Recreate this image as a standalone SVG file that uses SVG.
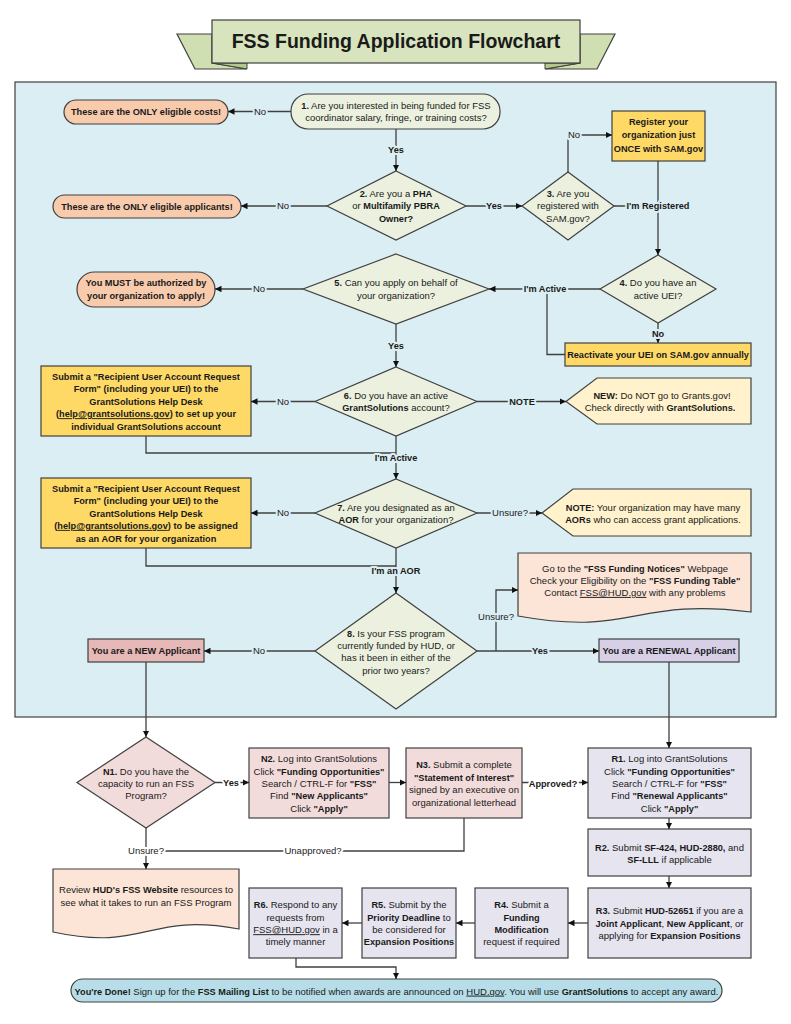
<svg xmlns="http://www.w3.org/2000/svg" width="791" height="1024" viewBox="0 0 791 1024">
<defs>
<style>
text{font-family:"Liberation Sans",Arial,sans-serif;font-size:9.5px;fill:#1a1a1a;text-anchor:middle}
.b{font-weight:bold;font-size:9.2px}
.u{text-decoration:underline}
.nd{stroke:#404040;stroke-width:1.2}
.cn{fill:none;stroke:#404040;stroke-width:1.3}
.lb{paint-order:stroke;stroke:#daeef3;stroke-width:4px;stroke-linejoin:round}
.lw{stroke:#ffffff}
.peach{fill:#f8cbad}
.q{fill:#ebf1de}
.gold{fill:#ffd966}
.note{fill:#fff2cc}
.doc{fill:#fce4d6}
.newb{fill:#e6b8b7}
.ren{fill:#d6cfe6}
.np{fill:#f2dcdb}
.rp{fill:#e6e4ee}
</style>
<marker id="ah" viewBox="0 0 10 10" refX="10" refY="5" markerWidth="6.5" markerHeight="6.5" markerUnits="userSpaceOnUse" orient="auto"><path d="M0,0L10,5L0,10z" fill="#111"/></marker>
</defs>
<rect x="0" y="0" width="791" height="1024" fill="#ffffff"/>

<g id="title">
<polygon points="177,34 212,34 212,63 247,69 195,69" fill="#d0dfb2" stroke="#404040" stroke-width="1.2"/>
<polygon points="212,63 247,63 247,69" fill="#b3c98b" stroke="#404040" stroke-width="1"/>
<polygon points="615,34 580,34 580,63 545,69 597,69" fill="#d0dfb2" stroke="#404040" stroke-width="1.2"/>
<polygon points="580,63 545,63 545,69" fill="#b3c98b" stroke="#404040" stroke-width="1"/>
<rect x="212" y="20" width="368" height="43" fill="#d7e4bd" stroke="#404040" stroke-width="1.2"/>
<text x="396" y="48" class="b" style="font-size:19.5px">FSS Funding Application Flowchart</text>
</g>

<rect id="panel" x="15" y="82" width="761" height="635" fill="#daeef3" stroke="#404040" stroke-width="1.2"/>

<g id="nodes">
<g id="costs"><rect x="64" y="100" width="164" height="24" rx="12" class="nd peach"/><text x="146" y="115.2" class="b">These are the ONLY eligible costs!</text></g>
<g id="q1"><rect x="291" y="94" width="209" height="35" rx="17" class="nd q"/><text x="396" y="108.7"><tspan class="b">1.</tspan> Are you interested in being funded for FSS</text><text x="396" y="121">coordinator salary, fringe, or training costs?</text></g>
<g id="q2"><polygon points="396,171 466,206 396,240 327,206" class="nd q"/><text x="396" y="196.5"><tspan class="b">2.</tspan> Are you a <tspan class="b">PHA</tspan></text><text x="396" y="209.2">or <tspan class="b">Multifamily PBRA</tspan></text><text x="396" y="221.9" class="b">Owner?</text></g>
<g id="applicants"><rect x="53" y="195" width="188" height="23" rx="11.5" class="nd peach"/><text x="147" y="209.7" class="b">These are the ONLY eligible applicants!</text></g>
<g id="q3"><polygon points="568,172 614,206 568,240 522,206" class="nd q"/><text x="568" y="196.5"><tspan class="b">3.</tspan> Are you</text><text x="568" y="209.2">registered with</text><text x="568" y="221.9">SAM.gov?</text></g>
<g id="register"><rect x="612" y="111" width="93" height="50" class="nd gold"/><text x="658.5" y="125" class="b">Register your</text><text x="658.5" y="138.2" class="b">organization just</text><text x="658.5" y="151.5" class="b">ONCE with SAM.gov</text></g>
<g id="q4"><polygon points="658,255 716,289 658,323 600,289" class="nd q"/><text x="658" y="286"><tspan class="b">4.</tspan> Do you have an</text><text x="658" y="298.5">active UEI?</text></g>
<g id="reactivate"><rect x="565" y="343" width="186" height="23" class="nd gold"/><text x="658" y="357.8" class="b">Reactivate your UEI on SAM.gov annually</text></g>
<g id="q5"><polygon points="396,254 489,289 396,324 303,289" class="nd q"/><text x="396" y="286"><tspan class="b">5.</tspan> Can you apply on behalf of</text><text x="396" y="298.5">your organization?</text></g>
<g id="must"><rect x="77" y="272" width="138" height="35" rx="17.5" class="nd peach"/><text x="146" y="286" class="b">You MUST be authorized by</text><text x="146" y="298.5" class="b">your organization to apply!</text></g>
<g id="q6"><polygon points="396,367 477,401.5 396,436 315,401.5" class="nd q"/><text x="396" y="398.7"><tspan class="b">6.</tspan> Do you have an active</text><text x="396" y="411"><tspan class="b">GrantSolutions</tspan> account?</text></g>
<g id="account"><rect x="41" y="366" width="210" height="70" class="nd gold"/>
<text x="146" y="379.9" class="b">Submit a "Recipient User Account Request</text>
<text x="146" y="392.2" class="b">Form" (including your UEI) to the</text>
<text x="146" y="404.9" class="b">GrantSolutions Help Desk</text>
<text x="146" y="417.2" class="b">(<tspan class="u">help@grantsolutions.gov</tspan>) to set up your</text>
<text x="146" y="429.9" class="b">individual GrantSolutions account</text></g>
<g id="note1"><polygon points="566,401.5 597,378 751,378 751,424 597,424" class="nd note"/><text x="662" y="398.7"><tspan class="b">NEW:</tspan> Do NOT go to Grants.gov!</text><text x="660" y="411">Check directly with <tspan class="b">GrantSolutions.</tspan></text></g>
<g id="q7"><polygon points="396,479 477,513 396,548 315,513" class="nd q"/><text x="396" y="510.6"><tspan class="b">7.</tspan> Are you designated as an</text><text x="396" y="522.9"><tspan class="b">AOR</tspan> for your organization?</text></g>
<g id="aor"><rect x="41" y="478" width="210" height="70" class="nd gold"/>
<text x="146" y="491.5" class="b">Submit a "Recipient User Account Request</text>
<text x="146" y="504.2" class="b">Form" (including your UEI) to the</text>
<text x="146" y="516.5" class="b">GrantSolutions Help Desk</text>
<text x="146" y="528.9" class="b">(<tspan class="u">help@grantsolutions.gov</tspan>) to be assigned</text>
<text x="146" y="541.9" class="b">as an AOR for your organization</text></g>
<g id="note2"><polygon points="542,513 573,489 751,489 751,536 573,536" class="nd note"/><text x="653" y="510.6"><tspan class="b">NOTE:</tspan> Your organization may have many</text><text x="653" y="523.2"><tspan class="b">AORs</tspan> who can access grant applications.</text></g>
<g id="notices"><path d="M518,553H751V612C634,597 634,637 518,616Z" class="nd doc"/>
<text x="635" y="571.5">Go to the <tspan class="b">"FSS Funding Notices"</tspan> Webpage</text>
<text x="635" y="583.9">Check your Eligibility on the <tspan class="b">"FSS Funding Table"</tspan></text>
<text x="635" y="595.9">Contact <tspan class="u">FSS@HUD.gov</tspan> with any problems</text></g>
<g id="q8"><polygon points="396,593 477,651 396,709 315,651" class="nd q"/>
<text x="396" y="636.5"><tspan class="b">8.</tspan> Is your FSS program</text>
<text x="396" y="648.9">currently funded by HUD, or</text>
<text x="396" y="661.3">has it been in either of the</text>
<text x="396" y="673.7">prior two years?</text></g>
<g id="newapp"><rect x="88" y="639" width="116" height="23" class="nd newb"/><text x="146" y="653.8" class="b">You are a NEW Applicant</text></g>
<g id="renewal"><rect x="599" y="639" width="140" height="23" class="nd ren"/><text x="669" y="653.8" class="b">You are a RENEWAL Applicant</text></g>

<g id="n1"><polygon points="146,737 215,782.5 146,828 77,782.5" class="nd np"/><text x="146" y="774.9"><tspan class="b">N1.</tspan> Do you have the</text><text x="146" y="786.8">capacity to run an FSS</text><text x="146" y="799.2">Program?</text></g>
<g id="n2"><rect x="249" y="748" width="140" height="70" class="nd np"/>
<text x="319" y="762.2"><tspan class="b">N2.</tspan> Log into GrantSolutions</text>
<text x="319" y="774.9">Click <tspan class="b">"Funding Opportunities"</tspan></text>
<text x="319" y="786.8">Search / CTRL-F for <tspan class="b">"FSS"</tspan></text>
<text x="319" y="799.2">Find <tspan class="b">"New Applicants"</tspan></text>
<text x="319" y="811.5">Click <tspan class="b">"Apply"</tspan></text></g>
<g id="n3"><rect x="406" y="748" width="116" height="70" class="nd np"/>
<text x="464" y="768.2"><tspan class="b">N3.</tspan> Submit a complete</text>
<text x="464" y="780.9" class="b">"Statement of Interest"</text>
<text x="464" y="793.2">signed by an executive on</text>
<text x="464" y="805.5">organizational letterhead</text></g>
<g id="r1"><rect x="588" y="748" width="163" height="70" class="nd rp"/>
<text x="669.5" y="762.2"><tspan class="b">R1.</tspan> Log into GrantSolutions</text>
<text x="669.5" y="774.9">Click <tspan class="b">"Funding Opportunities"</tspan></text>
<text x="669.5" y="786.8">Search / CTRL-F for <tspan class="b">"FSS"</tspan></text>
<text x="669.5" y="799.2">Find <tspan class="b">"Renewal Applicants"</tspan></text>
<text x="669.5" y="811.5">Click <tspan class="b">"Apply"</tspan></text></g>
<g id="r2"><rect x="588" y="829" width="163" height="47" class="nd rp"/>
<text x="669.5" y="850.5"><tspan class="b">R2.</tspan> Submit <tspan class="b">SF-424, HUD-2880,</tspan> and</text>
<text x="669.5" y="862.8"><tspan class="b">SF-LLL</tspan> if applicable</text></g>
<g id="r3"><rect x="588" y="888" width="163" height="70" class="nd rp"/>
<text x="669.5" y="914.2"><tspan class="b">R3.</tspan> Submit <tspan class="b">HUD-52651</tspan> if you are a</text>
<text x="669.5" y="926.5"><tspan class="b">Joint Applicant</tspan>, <tspan class="b">New Applicant</tspan>, or</text>
<text x="669.5" y="938.9">applying for <tspan class="b">Expansion Positions</tspan></text></g>
<g id="r4"><rect x="475" y="888" width="93" height="70" class="nd rp"/>
<text x="521.5" y="908.2"><tspan class="b">R4.</tspan> Submit a</text>
<text x="521.5" y="920.9" class="b">Funding</text>
<text x="521.5" y="933.2" class="b">Modification</text>
<text x="521.5" y="944.9">request if required</text></g>
<g id="r5"><rect x="362" y="888" width="94" height="70" class="nd rp"/>
<text x="409" y="908.2"><tspan class="b">R5.</tspan> Submit by the</text>
<text x="409" y="920.9"><tspan class="b">Priority Deadline</tspan> to</text>
<text x="409" y="933.2">be considered for</text>
<text x="409" y="944.9" class="b">Expansion Positions</text></g>
<g id="r6"><rect x="249" y="888" width="93" height="70" class="nd rp"/>
<text x="295.5" y="908.2"><tspan class="b">R6.</tspan> Respond to any</text>
<text x="295.5" y="920.9">requests from</text>
<text x="295.5" y="933.2"><tspan class="u">FSS@HUD.gov</tspan> in a</text>
<text x="295.5" y="944.9">timely manner</text></g>
<g id="review"><path d="M53,869H239V929C146,912 146,952 53,932Z" class="nd doc"/>
<text x="146" y="893.2">Review <tspan class="b">HUD's FSS Website</tspan> resources to</text>
<text x="146" y="905.9">see what it takes to run an FSS Program</text></g>
<g id="done"><rect x="71" y="979" width="651" height="23" rx="11.5" fill="#b7dee8" class="nd"/>
<text x="396.5" y="994.6"><tspan class="b">You're Done!</tspan> Sign up for the <tspan class="b">FSS Mailing List</tspan> to be notified when awards are announced on <tspan class="u">HUD.gov</tspan>. You will use <tspan class="b">GrantSolutions</tspan> to accept any award.</text></g>
</g>

<g id="connectors">
<path class="cn" marker-end="url(#ah)" d="M291,111.5H228"/>
<path class="cn" marker-end="url(#ah)" d="M396,129V171"/>
<path class="cn" marker-end="url(#ah)" d="M327,206H241"/>
<path class="cn" marker-end="url(#ah)" d="M466,206H522"/>
<path class="cn" marker-end="url(#ah)" d="M568,172V135H612"/>
<path class="cn" d="M614,206H658"/>
<path class="cn" marker-end="url(#ah)" d="M658,161V255"/>
<path class="cn" marker-end="url(#ah)" d="M600,289H489"/>
<path class="cn" d="M565,354.5H547V289"/>
<path class="cn" marker-end="url(#ah)" d="M658,323V343"/>
<path class="cn" marker-end="url(#ah)" d="M303,289H215"/>
<path class="cn" marker-end="url(#ah)" d="M396,324V367"/>
<path class="cn" marker-end="url(#ah)" d="M315,401.5H251"/>
<path class="cn" marker-end="url(#ah)" d="M477,401.5H566"/>
<path class="cn" d="M146,436V453H396"/>
<path class="cn" marker-end="url(#ah)" d="M396,436V479"/>
<path class="cn" marker-end="url(#ah)" d="M315,513H251"/>
<path class="cn" marker-end="url(#ah)" d="M477,513H542"/>
<path class="cn" d="M146,548V566H396"/>
<path class="cn" marker-end="url(#ah)" d="M396,548V593"/>
<path class="cn" marker-end="url(#ah)" d="M315,651H204"/>
<path class="cn" marker-end="url(#ah)" d="M477,651H599"/>
<path class="cn" marker-end="url(#ah)" d="M496,651V590H518"/>
<path class="cn" marker-end="url(#ah)" d="M146,662V737"/>
<path class="cn" marker-end="url(#ah)" d="M669,662V748"/>
<path class="cn" marker-end="url(#ah)" d="M215,782.5H249"/>
<path class="cn" marker-end="url(#ah)" d="M389,782.5H406"/>
<path class="cn" marker-end="url(#ah)" d="M522,782.5H588"/>
<path class="cn" marker-end="url(#ah)" d="M669,818V829"/>
<path class="cn" marker-end="url(#ah)" d="M669,876V888"/>
<path class="cn" marker-end="url(#ah)" d="M588,923H568"/>
<path class="cn" marker-end="url(#ah)" d="M475,923H456"/>
<path class="cn" marker-end="url(#ah)" d="M362,923H342"/>
<path class="cn" marker-end="url(#ah)" d="M146,828V869"/>
<path class="cn" d="M464,818V851H146"/>
<path class="cn" marker-end="url(#ah)" d="M296,958V967H396V979"/>
<text x="260" y="114.7" class="lb">No</text>
<text x="396" y="153.2" class="lb b">Yes</text>
<text x="283" y="209.2" class="lb">No</text>
<text x="494" y="209.2" class="lb b">Yes</text>
<text x="574" y="138.2" class="lb">No</text>
<text x="658" y="209.2" class="lb b">I'm Registered</text>
<text x="545" y="292.2" class="lb b">I'm Active</text>
<text x="658" y="337.2" class="lb b">No</text>
<text x="259" y="292.2" class="lb">No</text>
<text x="396" y="349" class="lb b">Yes</text>
<text x="283" y="404.7" class="lb">No</text>
<text x="522" y="404.7" class="lb b">NOTE</text>
<text x="396" y="460.9" class="lb b">I'm Active</text>
<text x="283" y="516.2" class="lb">No</text>
<text x="510" y="516.2" class="lb">Unsure?</text>
<text x="396" y="573.9" class="lb b">I'm an AOR</text>
<text x="259" y="654.2" class="lb">No</text>
<text x="540" y="654.2" class="lb b">Yes</text>
<text x="496" y="619.9" class="lb">Unsure?</text>
<text x="231" y="786" class="lb lw b">Yes</text>
<text x="553" y="786.5" class="lb lw b">Approved?</text>
<text x="146" y="854.2" class="lb lw">Unsure?</text>
<text x="313" y="854.2" class="lb lw">Unapproved?</text>
</g>
</svg>
